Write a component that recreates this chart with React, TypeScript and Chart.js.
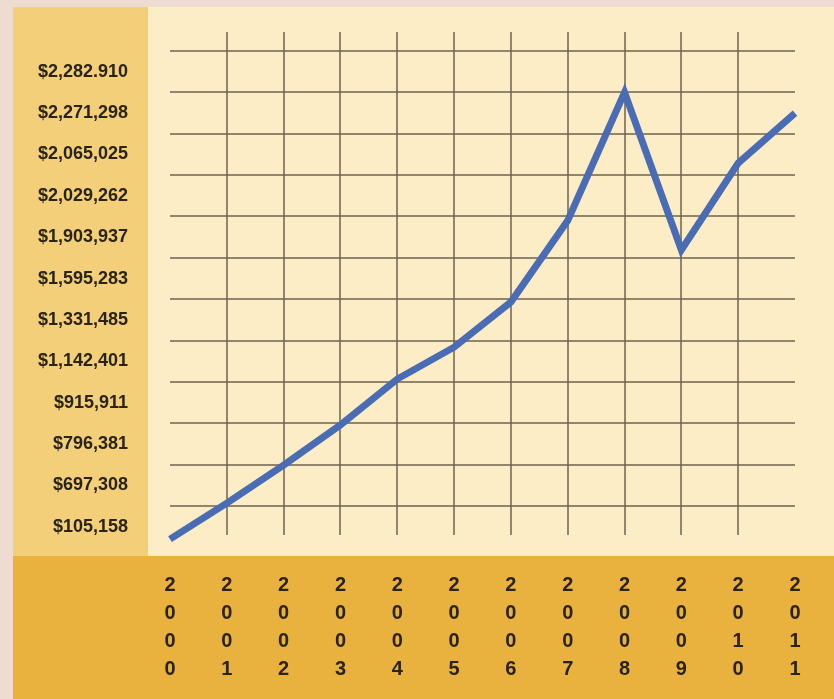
import React, { useEffect, useRef } from "react";
import { Chart, registerables } from "chart.js";

Chart.register(...registerables);

const years = ["2000", "2001", "2002", "2003", "2004", "2005", "2006", "2007", "2008", "2009", "2010", "2011"];
// values in grid-row units (row 0 = lowest gridline)
const values = [-0.8, 0.07, 0.99, 1.96, 3.07, 3.84, 4.93, 6.9, 10.0, 6.19, 8.29, 9.5];
const yLabels = [
  "$105,158",
  "$697,308",
  "$796,381",
  "$915,911",
  "$1,142,401",
  "$1,331,485",
  "$1,595,283",
  "$1,903,937",
  "$2,029,262",
  "$2,065,025",
  "$2,271,298",
  "$2,282.910",
];

const FONT = "'Liberation Sans', Arial, sans-serif";

const bgPlugin = {
  id: "bgPanels",
  beforeDraw(chart: any) {
    const { ctx, width, height } = chart;
    ctx.save();
    ctx.fillStyle = "#efdcd0";
    ctx.fillRect(0, 0, width, height);
    ctx.fillStyle = "#f3cf79";
    ctx.fillRect(13, 7, 135, 549);
    ctx.fillStyle = "#fcedc6";
    ctx.fillRect(148, 7, width - 148, 549);
    ctx.fillStyle = "#e9b23f";
    ctx.fillRect(13, 556, width - 13, height - 556);
    ctx.restore();
  },
};

export default function App() {
  const ref = useRef<HTMLCanvasElement | null>(null);
  useEffect(() => {
    document.body.style.margin = "0";
    const canvas = ref.current!;
    const gridColor = "rgba(110, 98, 76, 0.75)";
    const chart = new Chart(canvas, {
      type: "line",
      data: {
        labels: years.map((y) => y.split("")),
        datasets: [
          {
            data: values,
            borderColor: "#4a6cb5",
            borderWidth: 7,
            pointRadius: 0,
            tension: 0,
            fill: false,
            borderJoinStyle: "miter",
            borderCapStyle: "butt",
            clip: false as any,
          },
        ],
      },
      options: {
        animation: false,
        responsive: false,
        layout: { padding: { top: 32, right: 39, left: 0, bottom: 0 } },
        plugins: { legend: { display: false }, tooltip: { enabled: false }, title: { display: false } },
        scales: {
          x: {
            type: "category",
            offset: false,
            border: { display: false },
            grid: {
              drawTicks: false,
              lineWidth: 2,
              color: (c: any) => (c.index === 0 || c.index === years.length - 1 ? "transparent" : gridColor),
            },
            ticks: {
              autoSkip: false,
              maxRotation: 0,
              minRotation: 0,
              padding: 36,
              color: "#2a2317",
              font: { family: FONT, size: 20, weight: "bold", lineHeight: "28px" as any },
            },
            afterFit: (s: any) => {
              s.height = 699 - 535;
              s.paddingLeft = 0;
              s.paddingRight = 0;
            },
          },
          y: {
            type: "linear",
            min: -0.7,
            max: 11.46,
            border: { display: false },
            grid: {
              drawTicks: false,
              lineWidth: 2,
              color: (c: any) => (c.tick && Number.isInteger(c.tick.value) ? gridColor : "transparent"),
            },
            afterBuildTicks: (s: any) => {
              const t: any[] = [];
              for (let v = -0.5; v <= 11; v += 0.5) t.push({ value: v });
              s.ticks = t;
            },
            ticks: {
              autoSkip: false,
              padding: 42,
              color: "#2a2317",
              font: { family: FONT, size: 18, weight: "bold" },
              callback: (v: any) => (Number.isInteger(v) ? "" : yLabels[Math.round(Number(v) + 0.5)]),
            },
            afterFit: (s: any) => {
              s.width = 170;
              s.paddingTop = 0;
              s.paddingBottom = 0;
            },
          },
        },
      },
      plugins: [bgPlugin],
    });
    return () => chart.destroy();
  }, []);
  return (
    <div style={{ position: "fixed", left: 0, top: 0, width: 834, height: 699 }}>
      <canvas ref={ref} width={834} height={699} style={{ width: 834, height: 699, display: "block" }} />
    </div>
  );
}
